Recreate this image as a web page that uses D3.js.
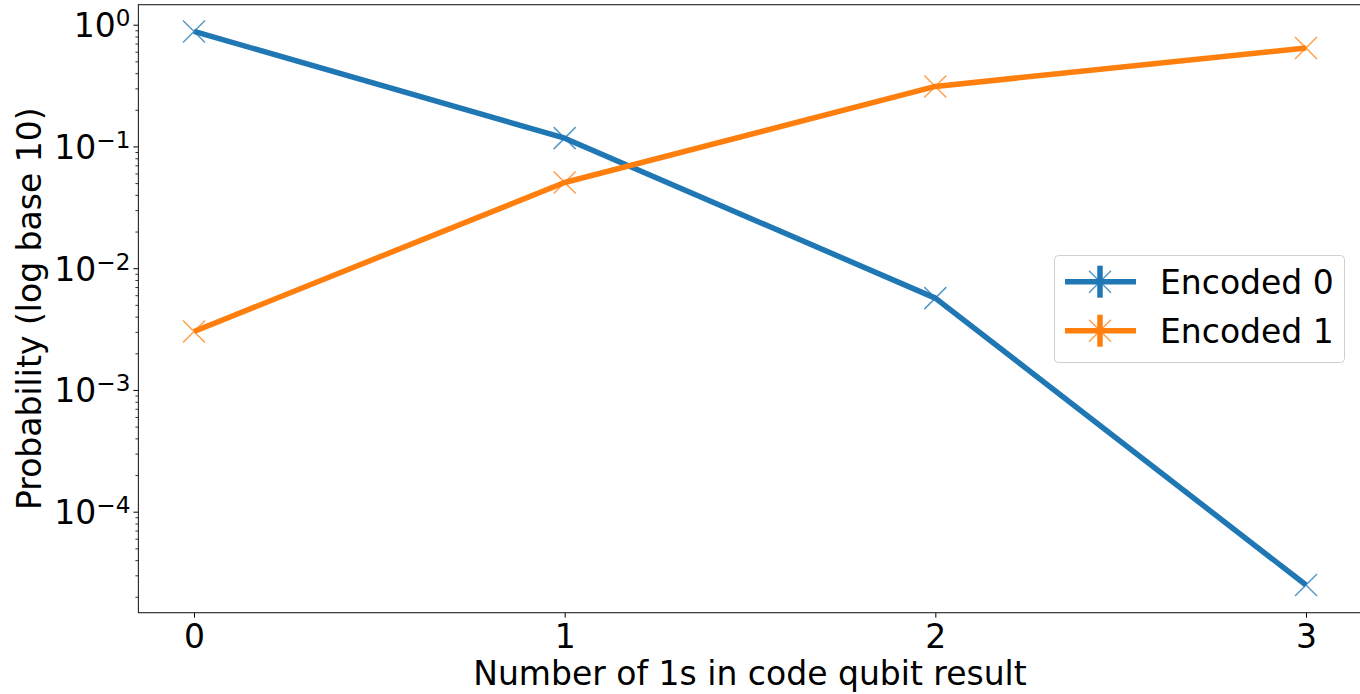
<!DOCTYPE html>
<html>
<head>
<meta charset="utf-8">
<script src="https://cdn.jsdelivr.net/npm/d3@7"></script>
<style>
  html, body { margin: 0; padding: 0; background: #fff; }
  svg { display: block; }
  text { font-family: "DejaVu Sans", sans-serif; fill: #000; }
</style>
</head>
<body>
<svg id="chart" width="1360" height="694"></svg>
<script>
// ---- data ----
const categories = [0, 1, 2, 3];
const encoded0 = [0.881, 0.117, 0.00568, 0.000025];
const encoded1 = [0.00302, 0.0506, 0.311, 0.644];
const seriesNames = ["Encoded 0", "Encoded 1"];
const seriesColors = ["#1f77b4", "#ff7f0e"];
const yMajorExponents = [0, -1, -2, -3, -4];
const xLabel = "Number of 1s in code qubit result";
const yLabel = "Probability (log base 10)";

// ---- layout ----
const W = 1360, H = 694;
const L = 138.4, R = 1361.6, T = 4.7, B = 612.7;
const FS = 33;

const svg = d3.select("#chart");

const x = d3.scaleLinear().domain([-0.15, 3.15]).range([L, R]);
const y = d3.scaleLog().domain([1.48e-5, 1.46]).range([B, T]);

// minor ticks
const minor = [];
for (let e = -5; e <= 0; e++) {
  for (let m = 2; m <= 9; m++) {
    const v = m * Math.pow(10, e);
    if (v >= y.domain()[0] && v <= y.domain()[1]) minor.push(v);
  }
}

const gMinor = svg.append("g").attr("transform", `translate(${L},0)`)
  .call(d3.axisLeft(y).tickValues(minor).tickSize(3).tickFormat(""));
gMinor.select(".domain").remove();
gMinor.selectAll("line").attr("stroke", "#000").attr("stroke-width", 0.8);

const majorVals = yMajorExponents.map(e => Math.pow(10, e));
const gY = svg.append("g").attr("transform", `translate(${L},0)`)
  .call(d3.axisLeft(y).tickValues(majorVals).tickSize(5).tickPadding(8).tickFormat(""));
gY.select(".domain").remove();
gY.selectAll("line").attr("stroke", "#000").attr("stroke-width", 1);
gY.selectAll(".tick").each(function(d, i) {
  const e = Math.round(Math.log10(d));
  const t = d3.select(this).append("text")
    .attr("x", -8).attr("y", 0).attr("dy", 12)
    .attr("text-anchor", "end")
    .style("font-size", FS + "px")
    .attr("fill", "#000");
  t.append("tspan").text("10");
  t.append("tspan")
    .attr("dy", -11)
    .style("font-size", (FS * 0.7) + "px")
    .text(e === 0 ? "0" : "\u2212" + Math.abs(e));
});

const gX = svg.append("g").attr("transform", `translate(0,${B})`)
  .call(d3.axisBottom(x).tickValues(categories).tickSize(5).tickPadding(7).tickFormat(d3.format("d")));
gX.select(".domain").remove();
gX.selectAll("line").attr("stroke", "#000").attr("stroke-width", 1);
gX.selectAll("text").style("font-size", FS + "px").attr("font-family", "DejaVu Sans").attr("fill", "#000")
  .attr("dy", "0.71em");

// spines
svg.append("rect").attr("x", L).attr("y", T).attr("width", R - L).attr("height", B - T)
  .attr("fill", "none").attr("stroke", "#222").attr("stroke-width", 1.1);

// lines
const series = [encoded0, encoded1];
const line = d3.line().x((d, i) => x(categories[i])).y(d => y(d));
const ms = 11;
series.forEach((vals, si) => {
  svg.append("path").datum(vals)
    .attr("d", line)
    .attr("fill", "none")
    .attr("stroke", seriesColors[si])
    .attr("stroke-width", 5.5)
    .attr("stroke-linejoin", "round")
    .attr("stroke-linecap", "butt");
  svg.append("g").selectAll("path").data(vals).join("path")
    .attr("d", (d, i) => {
      const cx = x(categories[i]), cy = y(d);
      return `M${cx - ms},${cy - ms}L${cx + ms},${cy + ms}M${cx - ms},${cy + ms}L${cx + ms},${cy - ms}`;
    })
    .attr("stroke", seriesColors[si])
    .attr("stroke-opacity", 0.75)
    .attr("stroke-width", 1.5)
    .attr("fill", "none");
});

// axis labels
svg.append("text").attr("x", (L + R) / 2).attr("y", 685)
  .attr("text-anchor", "middle").style("font-size", FS + "px").text(xLabel);
svg.append("text")
  .attr("transform", `translate(41,${(T + B) / 2}) rotate(-90)`)
  .attr("text-anchor", "middle").style("font-size", FS + "px").text(yLabel);

// legend
const lg = svg.append("g");
lg.append("rect").attr("x", 1054.5).attr("y", 255.5).attr("width", 290).attr("height", 107)
  .attr("rx", 4).attr("fill", "#fff").attr("fill-opacity", 0.8)
  .attr("stroke", "#d0d0d0").attr("stroke-width", 1);
const legY = [281.7, 330.7];
seriesNames.forEach((name, i) => {
  const cy = legY[i];
  const c = seriesColors[i];
  lg.append("line").attr("x1", 1065).attr("x2", 1136).attr("y1", cy).attr("y2", cy)
    .attr("stroke", c).attr("stroke-width", 5.5);
  lg.append("line").attr("x1", 1100).attr("x2", 1100).attr("y1", cy - 16).attr("y2", cy + 16)
    .attr("stroke", c).attr("stroke-width", 5.5);
  lg.append("path")
    .attr("d", `M${1100 - ms},${cy - ms}L${1100 + ms},${cy + ms}M${1100 - ms},${cy + ms}L${1100 + ms},${cy - ms}`)
    .attr("stroke", c).attr("stroke-opacity", 0.75).attr("stroke-width", 1.5);
  lg.append("text").attr("x", 1160).attr("y", cy + 12.5)
    .style("font-size", FS + "px").text(name);
});
</script>
</body>
</html>
